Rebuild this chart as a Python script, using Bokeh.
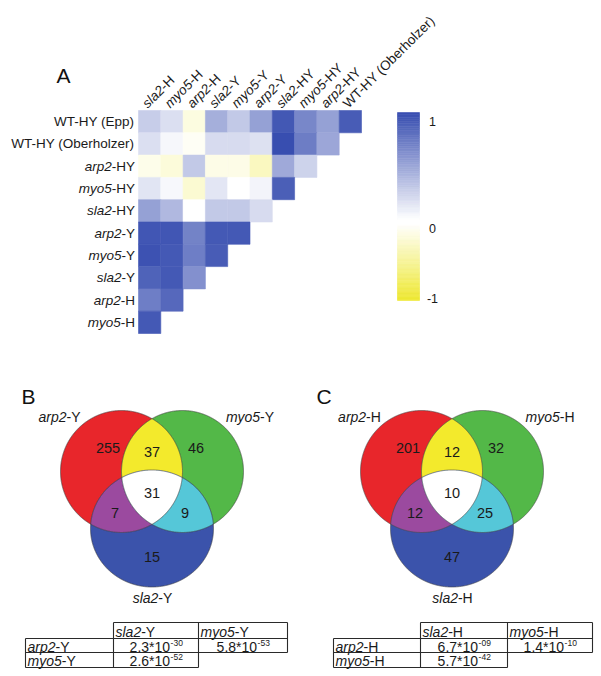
import numpy as np
from bokeh.plotting import figure
from bokeh.models import Range1d, ColumnDataSource, LinearColorMapper
from bokeh.transform import transform
from bokeh.core.properties import value
from bokeh.embed import file_html
from bokeh.resources import INLINE

# ---------------- data ----------------
heat_cols = ["sla2-H", "myo5-H", "arp2-H", "sla2-Y", "myo5-Y", "arp2-Y",
             "sla2-HY", "myo5-HY", "arp2-HY", "WT-HY (Oberholzer)"]
heat_rows = ["WT-HY (Epp)", "WT-HY (Oberholzer)", "arp2-HY", "myo5-HY", "sla2-HY",
             "arp2-Y", "myo5-Y", "sla2-Y", "arp2-H", "myo5-H"]
heat_wt_epp = [0.28, 0.18, -0.15, 0.45, 0.30, 0.53, 0.94, 0.68, 0.53, 0.92]
heat_wt_oberholzer = [0.18, 0.05, -0.05, 0.20, 0.20, 0.17, 1.00, 0.73, 0.50]
heat_arp2_hy = [-0.10, -0.18, 0.30, -0.12, -0.12, -0.30, 0.48, 0.25]
heat_myo5_hy = [0.15, 0.04, -0.22, 0.14, 0.00, 0.06, 0.90]
heat_sla2_hy = [0.53, 0.40, 0.00, 0.30, 0.30, 0.20]
heat_arp2_y = [0.95, 0.95, 0.70, 0.93, 0.93]
heat_myo5_y = [0.97, 0.93, 0.72, 0.92]
heat_sla2_y = [0.88, 0.93, 0.62]
heat_arp2_h = [0.72, 0.85]
heat_myo5_h = [0.93]
heat_values = [heat_wt_epp, heat_wt_oberholzer, heat_arp2_hy, heat_myo5_hy, heat_sla2_hy,
               heat_arp2_y, heat_myo5_y, heat_sla2_y, heat_arp2_h, heat_myo5_h]
colorbar_ticks = [1, 0, -1]
colorbar_labels = ["1", "0", "-1"]

venn_regions = ["A", "B", "C", "AB", "AC", "BC", "ABC"]
venn_b_sets = ["arp2-Y", "myo5-Y", "sla2-Y"]
venn_b_counts = [255, 46, 15, 37, 7, 9, 31]
venn_c_sets = ["arp2-H", "myo5-H", "sla2-H"]
venn_c_counts = [201, 32, 47, 12, 12, 25, 10]

table_b_cols = ["sla2-Y", "myo5-Y"]
table_b_rows = ["arp2-Y", "myo5-Y"]
table_b_mant = [["2.3*10", "5.8*10"], ["2.6*10", None]]
table_b_exp = [["-30", "-53"], ["-52", None]]
table_c_cols = ["sla2-H", "myo5-H"]
table_c_rows = ["arp2-H", "myo5-H"]
table_c_mant = [["6.7*10", "1.4*10"], ["5.7*10", None]]
table_c_exp = [["-09", "-10"], ["-42", None]]

# ---------------- helpers ----------------
FONT = "Liberation Sans"
AW = {' ': 278, '(': 333, ')': 333, '-': 333, '.': 278, '*': 389, 'E': 667, 'H': 722,
      'O': 778, 'T': 611, 'W': 944, 'Y': 667, 'a': 556, 'b': 556, 'e': 556, 'h': 556,
      'l': 222, 'm': 833, 'o': 556, 'p': 556, 'r': 333, 's': 500, 'y': 500, 'z': 500}


def tw(s, size):
    return sum(AW.get(c, 556) for c in s) / 1000.0 * size


def split_label(s):
    for g in ("arp2", "myo5", "sla2"):
        if s.startswith(g):
            return g, s[len(g):]
    return "", s


def new_store():
    return {k: {"x": [], "y": [], "text": [], "xo": [], "yo": [], "angle": [], "size": []}
            for k in ("it", "up")}


def mixed(store, x, y, label, size, align="left", angle=0.0, xo=0.0, yo=0.0):
    pre, suf = split_label(label)
    wp, ws = tw(pre, size), tw(suf, size)
    total = wp + ws
    start = {"left": 0.0, "center": -total / 2.0, "right": -total}[align]
    c, s = np.cos(angle), np.sin(angle)
    for part, off, key in ((pre, start, "it"), (suf, start + wp, "up")):
        if not part:
            continue
        d = store[key]
        d["x"].append(x); d["y"].append(y); d["text"].append(part)
        d["xo"].append(xo + off * c); d["yo"].append(yo - off * s)
        d["angle"].append(angle); d["size"].append(f"{size}px")


def draw_store(p, store, baseline, **kw):
    for key, style in (("it", "italic"), ("up", "normal")):
        d = store[key]
        if not d["x"]:
            continue
        p.text(x="x", y="y", text="text", x_offset="xo", y_offset="yo", angle="angle",
               text_font_size="size", text_align="left", text_baseline=baseline,
               text_font=value(FONT), text_font_style=style, text_color="#1a1a1a",
               source=ColumnDataSource(d), **kw)


# ---------------- figure ----------------
W, H = 600, 675
p = figure(width=W, height=H, x_range=Range1d(0, W), y_range=Range1d(H, 0),
           output_backend="svg", toolbar_location=None, min_border=0,
           x_axis_location=None, y_axis_location=None)
p.grid.visible = False
p.outline_line_color = None

BLUE = (56, 78, 176)
YELLOW = (238, 232, 48)


def lerp(c1, c2, t):
    return tuple(int(round(a + (b - a) * t)) for a, b in zip(c1, c2))


palette = []
for v in np.linspace(-1, 1, 257):
    c = lerp((255, 255, 255), YELLOW, -v) if v < 0 else lerp((255, 255, 255), BLUE, v)
    palette.append("#%02x%02x%02x" % c)
mapper = LinearColorMapper(palette=palette, low=-1, high=1)

# ---- panel A : heatmap ----
HX0, HY0, CW, CH = 138.0, 110.0, 22.3, 22.3
p.extra_x_ranges["hx"] = Range1d(-HX0 / CW, (W - HX0) / CW)
p.extra_y_ranges["hy"] = Range1d((H - HY0) / CH, -HY0 / CH)

cells = {"x": [], "y": [], "v": []}
for i, vals in enumerate(heat_values):
    for j, v in enumerate(vals):
        cells["x"].append(j + 0.5)
        cells["y"].append(i + 0.5)
        cells["v"].append(v)
p.rect(x="x", y="y", width=1, height=1, source=ColumnDataSource(cells),
       x_range_name="hx", y_range_name="hy",
       fill_color=transform("v", mapper), line_color=transform("v", mapper), line_width=0.6)

rowlab = new_store()
for i, r in enumerate(heat_rows):
    mixed(rowlab, 0.0, i + 0.5, r, 13.5, align="right", xo=-3.5)
draw_store(p, rowlab, "middle", x_range_name="hx", y_range_name="hy")

collab = new_store()
for j, c in enumerate(heat_cols):
    mixed(collab, j + 0.5, 0.0, c, 13.5, align="left", angle=np.pi / 4, xo=-5, yo=-5)
draw_store(p, collab, "alphabetic", x_range_name="hx", y_range_name="hy")

# colour bar (legend gradient)
CBX0, CBX1 = 397, 419
cb = {"left": [], "right": [], "top": [], "bottom": [], "v": []}
steps = np.linspace(0, 1, 61)
for lo, hi in zip(steps[:-1], steps[1:]):
    cb["left"].append(CBX0); cb["right"].append(CBX1)
    cb["bottom"].append(219 - lo * 107); cb["top"].append(219 - hi * 107)
    cb["v"].append((lo + hi) / 2)
    cb["left"].append(CBX0); cb["right"].append(CBX1)
    cb["top"].append(224 + lo * 76); cb["bottom"].append(224 + hi * 76)
    cb["v"].append(-(lo + hi) / 2)
p.quad(left="left", right="right", top="top", bottom="bottom", source=ColumnDataSource(cb),
       fill_color=transform("v", mapper), line_color=transform("v", mapper), line_width=0.6)
tick_y = {1: 121, 0: 228, -1: 298}
p.text(x=[432] * 3, y=[tick_y[t] for t in colorbar_ticks], text=colorbar_labels,
       text_align="center", text_baseline="middle", text_font=value(FONT),
       text_font_size="12.5px", text_color="#1a1a1a")

# panel letters
p.text(x=[56, 21, 316], y=[75, 396, 396], text=["A", "B", "C"], text_align="left",
       text_baseline="middle", text_font=value(FONT), text_font_size="21px",
       text_color="#111111")


# ---- panels B, C : Venn diagrams ----
def ellipse_pts(cx, cy, rx, ry, n=1440):
    t = np.linspace(0, 2 * np.pi, n, endpoint=False)
    return cx + rx * np.cos(t), cy + ry * np.sin(t)


def inside(x, y, e):
    cx, cy, rx, ry = e
    return ((x - cx) / rx) ** 2 + ((y - cy) / ry) ** 2 <= 1 + 1e-9


def region(ells):
    xs, ys = [], []
    for k, e in enumerate(ells):
        x, y = ellipse_pts(*e)
        m = np.ones_like(x, dtype=bool)
        for q, o in enumerate(ells):
            if q != k:
                m &= inside(x, y, o)
        xs.append(x[m]); ys.append(y[m])
    x = np.concatenate(xs); y = np.concatenate(ys)
    o = np.argsort(np.arctan2(y - y.mean(), x - x.mean()))
    return list(x[o]), list(y[o])


REGION_COLORS = {"A": "#e8262b", "B": "#53b848", "C": "#3b53ab", "AB": "#f3ea2c",
                 "AC": "#9b4a9f", "BC": "#55c7d8", "ABC": "#ffffff"}
LABEL_OFF = {"A": (-44, 447), "B": (44, 447), "C": (0, 556), "AB": (0, 451.5),
             "AC": (-37, 512.5), "BC": (33, 512.5), "ABC": (0, 492.5)}


def venn(cx, sets, counts):
    E = {"A": (cx - 30.5, 471, 61, 61), "B": (cx + 30.5, 471, 61, 61),
         "C": (cx, 528, 61.5, 58.5)}
    xs, ys, cols = [], [], []
    for key in ("A", "B", "C"):
        x, y = ellipse_pts(*E[key])
        xs.append(list(x)); ys.append(list(y)); cols.append(REGION_COLORS[key])
    for key in ("AB", "AC", "BC", "ABC"):
        x, y = region([E[k] for k in key])
        xs.append(x); ys.append(y); cols.append(REGION_COLORS[key])
    p.patches(xs=xs, ys=ys, fill_color=cols, line_color=None)
    p.patches(xs=xs[:3], ys=ys[:3], fill_color=None, line_color="#4a4a4a",
              line_width=0.9, line_alpha=0.75)
    lx = [cx + LABEL_OFF[r][0] for r in venn_regions]
    ly = [LABEL_OFF[r][1] for r in venn_regions]
    p.text(x=lx, y=ly, text=[str(c) for c in counts], text_align="center",
           text_baseline="middle", text_font=value(FONT), text_font_size="14.5px",
           text_color="#1a1a1a")
    st = new_store()
    mixed(st, cx - 92.5, 416, sets[0], 14, align="center")
    mixed(st, cx + 98, 416, sets[1], 14, align="center")
    mixed(st, cx + 0.5, 597, sets[2], 14, align="center")
    draw_store(p, st, "middle")


venn(151.5, venn_b_sets, venn_b_counts)
venn(451.5, venn_c_sets, venn_c_counts)


# ---- p-value tables ----
def table(xl, yl, cols, rows, mant, exps):
    x0, x1, x2, x3 = xl
    y0, y1, y2, y3 = yl
    segs = [(x1, y0, x3, y0), (x0, y1, x3, y1), (x0, y2, x3, y2), (x0, y3, x2, y3),
            (x0, y1, x0, y3), (x1, y0, x1, y3), (x2, y0, x2, y3), (x3, y0, x3, y2)]
    p.segment(x0=[s[0] for s in segs], y0=[s[1] for s in segs],
              x1=[s[2] for s in segs], y1=[s[3] for s in segs],
              line_color="#2a2a2a", line_width=1.1)
    st = new_store()
    for k, c in enumerate(cols):
        mixed(st, [x1, x2][k] + 2, (y0 + y1) / 2 + 1, c, 14)
    for k, r in enumerate(rows):
        mixed(st, x0 + 2, [(y1 + y2) / 2, (y2 + y3) / 2][k] + 1, r, 14)
    draw_store(p, st, "middle")
    mx, my, mt, ex, ey, et = [], [], [], [], [], []
    cx = [(x1 + x2) / 2, (x2 + x3) / 2]
    cy = [(y1 + y2) / 2, (y2 + y3) / 2]
    for i in range(2):
        for j in range(2):
            if mant[i][j] is None:
                continue
            wm, we = tw(mant[i][j], 14), tw(exps[i][j], 8.5)
            anchor = cx[j] - (wm + we) / 2 + wm
            mx.append(anchor); my.append(cy[i] + 1); mt.append(mant[i][j])
            ex.append(anchor + 0.5); ey.append(cy[i] - 3); et.append(exps[i][j])
    p.text(x=mx, y=my, text=mt, text_align="right", text_baseline="middle",
           text_font=value(FONT), text_font_size="14px", text_color="#1a1a1a")
    p.text(x=ex, y=ey, text=et, text_align="left", text_baseline="middle",
           text_font=value(FONT), text_font_size="8.5px", text_color="#1a1a1a")


table((25, 113, 198, 287), (622, 638, 652, 667), table_b_cols, table_b_rows,
      table_b_mant, table_b_exp)
table((333, 420, 507, 592), (622, 638, 652, 667), table_c_cols, table_c_rows,
      table_c_mant, table_c_exp)

open("out.html", "w").write(file_html(p, INLINE))
